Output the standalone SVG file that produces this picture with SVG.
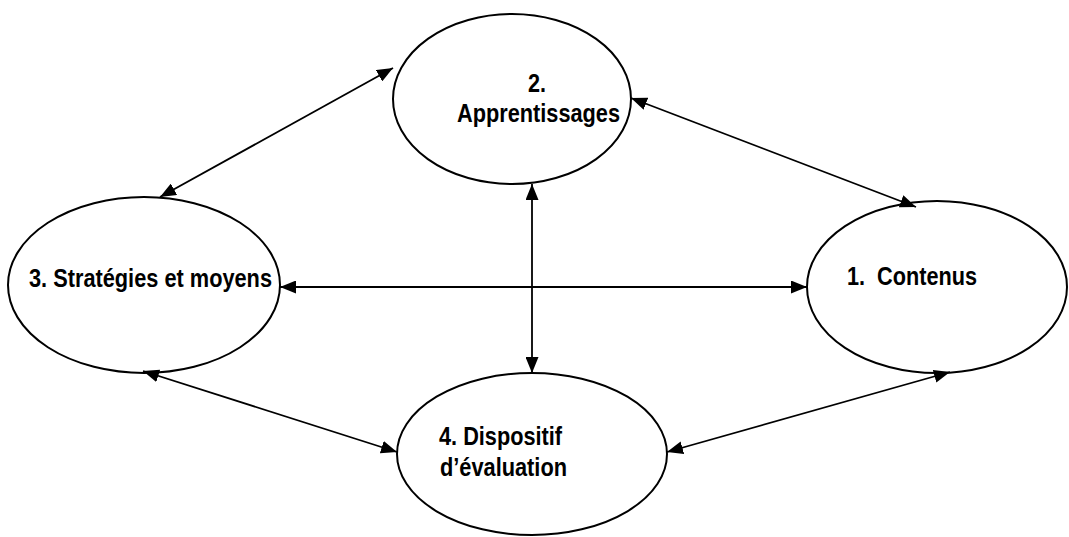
<svg xmlns="http://www.w3.org/2000/svg" width="1069" height="537" viewBox="0 0 1069 537">
<style>
.node ellipse{fill:#fff;stroke:#000;stroke-width:2}
.lbl{font-family:"Liberation Sans",Arial,sans-serif;font-weight:bold;font-size:25px;fill:#000}
.conn line{stroke:#000;stroke-width:1.8;marker-start:url(#ah);marker-end:url(#ah)}
</style>
<defs>
<marker id="ah" markerUnits="userSpaceOnUse" markerWidth="16" markerHeight="13" refX="16" refY="6.5" orient="auto-start-reverse">
<path d="M0,0 L16,6.5 L0,13 z" fill="#000"/>
</marker>
</defs>
<rect width="1069" height="537" fill="#fff"/>
<g id="n2" class="node">
<ellipse cx="512" cy="99" rx="119" ry="85"/>
<text class="lbl" x="528" y="92" textLength="18" lengthAdjust="spacingAndGlyphs">2.</text>
<text class="lbl" x="457" y="122" textLength="163" lengthAdjust="spacingAndGlyphs">Apprentissages</text>
</g>
<g id="n3" class="node">
<ellipse cx="144" cy="285" rx="136" ry="88"/>
<text class="lbl" x="29" y="287" textLength="243" lengthAdjust="spacingAndGlyphs">3. Stratégies et moyens</text>
</g>
<g id="n1" class="node">
<ellipse cx="937" cy="287" rx="130" ry="86"/>
<text class="lbl" x="847" y="285" xml:space="preserve" textLength="130" lengthAdjust="spacingAndGlyphs">1.  Contenus</text>
</g>
<g id="n4" class="node">
<ellipse cx="532" cy="454" rx="135" ry="81"/>
<text class="lbl" x="439" y="445" textLength="123" lengthAdjust="spacingAndGlyphs">4. Dispositif</text>
<text class="lbl" x="440" y="476" textLength="127" lengthAdjust="spacingAndGlyphs">d’évaluation</text>
</g>
<g id="connectors" class="conn">
<line x1="393" y1="68" x2="160" y2="197"/>
<line x1="631" y1="98" x2="916" y2="207"/>
<line x1="532" y1="184" x2="532" y2="373"/>
<line x1="280" y1="287" x2="807" y2="287"/>
<line x1="143" y1="371" x2="397" y2="452"/>
<line x1="667" y1="452" x2="950" y2="372"/>
</g>
</svg>
